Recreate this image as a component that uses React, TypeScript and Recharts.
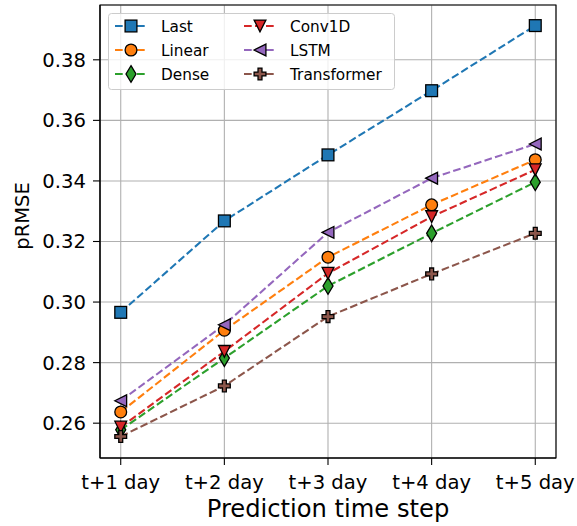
import React from 'react';
import { LineChart, Line, XAxis, YAxis, CartesianGrid, Legend, ReferenceArea, Label } from 'recharts';

const steps = ['t+1 day', 't+2 day', 't+3 day', 't+4 day', 't+5 day'];
const last = [0.2966, 0.3268, 0.3486, 0.3698, 0.3913];
const linear = [0.2637, 0.2907, 0.3148, 0.3321, 0.347];
const dense = [0.2578, 0.2815, 0.3053, 0.3227, 0.3396];
const conv1d = [0.2587, 0.2837, 0.3095, 0.3282, 0.3437];
const lstm = [0.2674, 0.2925, 0.323, 0.3409, 0.3522];
const transformer = [0.2556, 0.2723, 0.2952, 0.3093, 0.3227];

const seriesNames = ['Last', 'Linear', 'Dense', 'Conv1D', 'LSTM', 'Transformer'];
const seriesValues = [last, linear, dense, conv1d, lstm, transformer];
const colors = ['#1f77b4', '#ff7f0e', '#2ca02c', '#d62728', '#9467bd', '#8c564b'];
const shapes = ['square', 'circle', 'thin_diamond', 'tri_down', 'tri_left', 'plus'];
const yTicks = [0.26, 0.28, 0.3, 0.32, 0.34, 0.36, 0.38];
const xTicks = [0, 1, 2, 3, 4];
const yDomain = [0.2485, 0.3981];
const xDomain = [-0.2, 4.2];

const data = steps.map((s, i) => {
  const row: any = { i, step: s };
  seriesNames.forEach((n, k) => { row[n] = seriesValues[k][i]; });
  return row;
});

const FONT = 'DejaVu Sans, Verdana, sans-serif';
const MS = 11.8;

function Marker({ shape, cx, cy, fill }: { shape: string; cx: number; cy: number; fill: string }) {
  const h = MS / 2;
  const common = { fill, stroke: '#000', strokeWidth: 1.3, strokeLinejoin: 'miter' as const };
  if (cx == null || cy == null || isNaN(cx) || isNaN(cy)) return null;
  switch (shape) {
    case 'square':
      return <rect x={cx - h} y={cy - h} width={MS} height={MS} {...common} />;
    case 'circle':
      return <circle cx={cx} cy={cy} r={h} {...common} />;
    case 'thin_diamond': {
      const dy = (MS * Math.SQRT2) / 2;
      const dx = 0.6 * dy;
      return <polygon points={`${cx},${cy - dy} ${cx + dx},${cy} ${cx},${cy + dy} ${cx - dx},${cy}`} {...common} />;
    }
    case 'tri_down':
      return <polygon points={`${cx},${cy + h} ${cx - h},${cy - h} ${cx + h},${cy - h}`} {...common} />;
    case 'tri_left':
      return <polygon points={`${cx - h},${cy} ${cx + h},${cy - h} ${cx + h},${cy + h}`} {...common} />;
    case 'plus': {
      const a = MS / 6;
      const d = `M${cx - a},${cy - h} L${cx + a},${cy - h} L${cx + a},${cy - a} L${cx + h},${cy - a} L${cx + h},${cy + a} L${cx + a},${cy + a} L${cx + a},${cy + h} L${cx - a},${cy + h} L${cx - a},${cy + a} L${cx - h},${cy + a} L${cx - h},${cy - a} L${cx - a},${cy - a} Z`;
      return <path d={d} {...common} />;
    }
    default:
      return null;
  }
}

const renderLegend = () => {
  const rowsY = [13, 37, 61];
  const colX = [7, 136];
  return (
    <svg width={288} height={78} style={{ display: 'block' }}>
      <rect x={0.5} y={0.5} width={286} height={76} rx={3} ry={3} fill="#ffffff" fillOpacity={0.8} stroke="#cccccc" strokeWidth={1} />
      {seriesNames.map((n, k) => {
        const col = Math.floor(k / 3);
        const row = k % 3;
        const x0 = colX[col];
        const y = rowsY[row];
        return (
          <g key={n}>
            <line x1={x0} x2={x0 + 32} y1={y} y2={y} stroke={colors[k]} strokeWidth={2.08} strokeDasharray="7.7 3.3" />
            <Marker shape={shapes[k]} cx={x0 + 16} cy={y} fill={colors[k]} />
            <text x={x0 + 46} y={y + 5.5} fontFamily={FONT} fontSize={15.3} fill="#000">{n}</text>
          </g>
        );
      })}
    </svg>
  );
};

export default function App() {
  return (
    <div style={{ position: 'absolute', left: 0, top: 0, width: 577, height: 526, background: '#fff', overflow: 'hidden' }}>
      <LineChart width={577} height={526} data={data} margin={{ top: 5, right: 21, bottom: 0, left: 0 }} style={{ overflow: 'visible' }}>
        <CartesianGrid stroke="#b0b0b0" strokeWidth={1.1} />
        <XAxis
          dataKey="i"
          type="number"
          domain={xDomain}
          ticks={xTicks}
          allowDataOverflow
          tickFormatter={(v: number) => steps[v]}
          height={68}
          tickSize={7}
          tickMargin={10}
          interval={0}
          stroke="#000"
          tickLine={{ stroke: '#000', strokeWidth: 1.1 }}
          axisLine={{ stroke: '#000', strokeWidth: 1.1 }}
          tick={{ fill: '#000', fontSize: 19.6, fontFamily: FONT }}
        >
          <Label
            content={() => (
              <text x={328} y={517} textAnchor="middle" fontFamily={FONT} fontSize={24.2} fill="#000">
                Prediction time step
              </text>
            )}
          />
        </XAxis>
        <YAxis
          type="number"
          domain={yDomain}
          ticks={yTicks}
          allowDataOverflow
          width={100}
          tickSize={7}
          tickMargin={7}
          interval={0}
          tickFormatter={(v: number) => v.toFixed(2)}
          tickLine={{ stroke: '#000', strokeWidth: 1.1 }}
          axisLine={{ stroke: '#000', strokeWidth: 1.1 }}
          tick={{ fill: '#000', fontSize: 19.6, fontFamily: FONT }}
        >
          <Label
            content={() => (
              <text x={29} y={216} textAnchor="middle" transform="rotate(-90 29 216)" fontFamily={FONT} fontSize={19.5} fill="#000">
                pRMSE
              </text>
            )}
          />
        </YAxis>
        <ReferenceArea x1={xDomain[0]} x2={xDomain[1]} y1={yDomain[0]} y2={yDomain[1]} fill="none" stroke="#000" strokeWidth={1.1} ifOverflow="visible" />
        {seriesNames.map((n, k) => (
          <Line
            key={n}
            dataKey={n}
            type="linear"
            stroke={colors[k]}
            strokeWidth={2.08}
            strokeDasharray="7.7 3.3"
            isAnimationActive={false}
            dot={(p: any) => <Marker key={`${n}-${p.index}`} shape={shapes[k]} cx={p.cx} cy={p.cy} fill={colors[k]} />}
            activeDot={false}
          />
        ))}
        <Legend
          layout="horizontal"
          verticalAlign="middle"
          align="center"
          content={renderLegend}
          wrapperStyle={{ left: 108, top: 13, width: 288, height: 78 }}
        />
      </LineChart>
    </div>
  );
}
